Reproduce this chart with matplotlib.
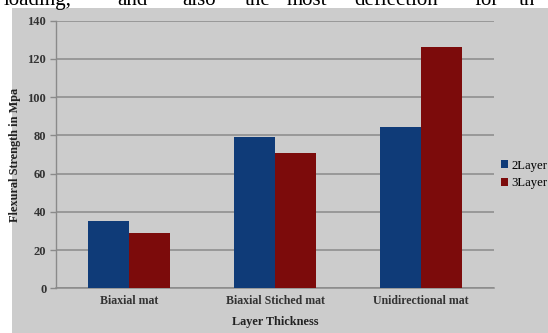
import matplotlib.pyplot as plt
from matplotlib.patches import Rectangle
import numpy as np

CATEGORIES = ["Biaxial mat", "Biaxial Stiched mat", "Unidirectional mat"]
TWO_LAYER = [35, 79, 84.5]
THREE_LAYER = [29, 71, 126.5]
SERIES_LABELS = ["2Layer", "3Layer"]
Y_TICKS = [0, 20, 40, 60, 80, 100, 120, 140]

# running text of the page above the chart (only its lower edge shows)
PAGE_WORDS = ["loading,", "and", "also", "the", "most", "deflection", "for", "th"]
PAGE_WORD_X = [4, 117, 182, 245, 287, 354, 474, 519]

W, H = 548, 333
BLUE = "#0f3b78"
RED = "#7c0b0b"
GRID = "#8a8a8a"
PANEL = "#cccccc"
SERIF = "Liberation Serif"

fig = plt.figure(figsize=(W / 100, H / 100), dpi=100)
fig.patch.set_facecolor("white")

# grey chart area, kept underneath the axes
fig.patches.append(Rectangle((12 / W, 0), 1 - 12 / W, (H - 8) / H,
                             transform=fig.transFigure, facecolor=PANEL,
                             edgecolor="none", zorder=-10))

for word, xp in zip(PAGE_WORDS, PAGE_WORD_X):
    fig.text(xp / W, 1 - 5 / H, word, fontsize=15, family=SERIF,
             va="baseline", ha="left", color="black", zorder=-5)

ax = fig.add_axes([56 / W, (H - 288.3) / H, 438 / W, 267.6 / H])
ax.set_facecolor("none")
ax.set_zorder(2)

x = np.arange(len(CATEGORIES))
bw = 0.284
b1 = ax.bar(x - bw / 2, TWO_LAYER, bw, color=BLUE, zorder=3, label=SERIES_LABELS[0])
b2 = ax.bar(x + bw / 2, THREE_LAYER, bw, color=RED, zorder=3, label=SERIES_LABELS[1])

ax.set_xlim(-0.5, 2.5)
ax.set_ylim(0, 140)
ax.set_yticks(Y_TICKS)
ax.set_yticklabels([str(v) for v in Y_TICKS], fontsize=9, family=SERIF,
                   fontweight="bold", color="#333333")
ax.set_xticks(x)
ax.set_xticklabels(CATEGORIES, fontsize=8.6, family=SERIF, fontweight="bold",
                   color="#333333")
ax.tick_params(axis="y", length=4, color=GRID, width=1, pad=3)
ax.tick_params(axis="x", length=0, pad=5)

ax.grid(axis="y", color=GRID, linewidth=1.1, zorder=1)
for side in ["top", "right"]:
    ax.spines[side].set_visible(False)
ax.spines["left"].set_color(GRID)
ax.spines["left"].set_linewidth(1)
ax.spines["bottom"].set_color(GRID)
ax.spines["bottom"].set_linewidth(1.1)

ax.set_ylabel("Flexural Strength in Mpa", fontsize=8.8, family=SERIF,
              fontweight="bold", color="#222222", labelpad=5)
ax.set_xlabel("Layer Thickness", fontsize=8.8, family=SERIF,
              fontweight="bold", color="#222222", labelpad=6)

fig.legend(handles=[b1, b2], loc="center left",
           bbox_to_anchor=(501 / W, 1 - 174.4 / H), frameon=False,
           handlelength=0.55, handleheight=0.55, handletextpad=0.25,
           borderpad=0, borderaxespad=0, labelspacing=0.45,
           prop={"family": SERIF, "size": 9.2})

fig.savefig("out.png", dpi=100)
